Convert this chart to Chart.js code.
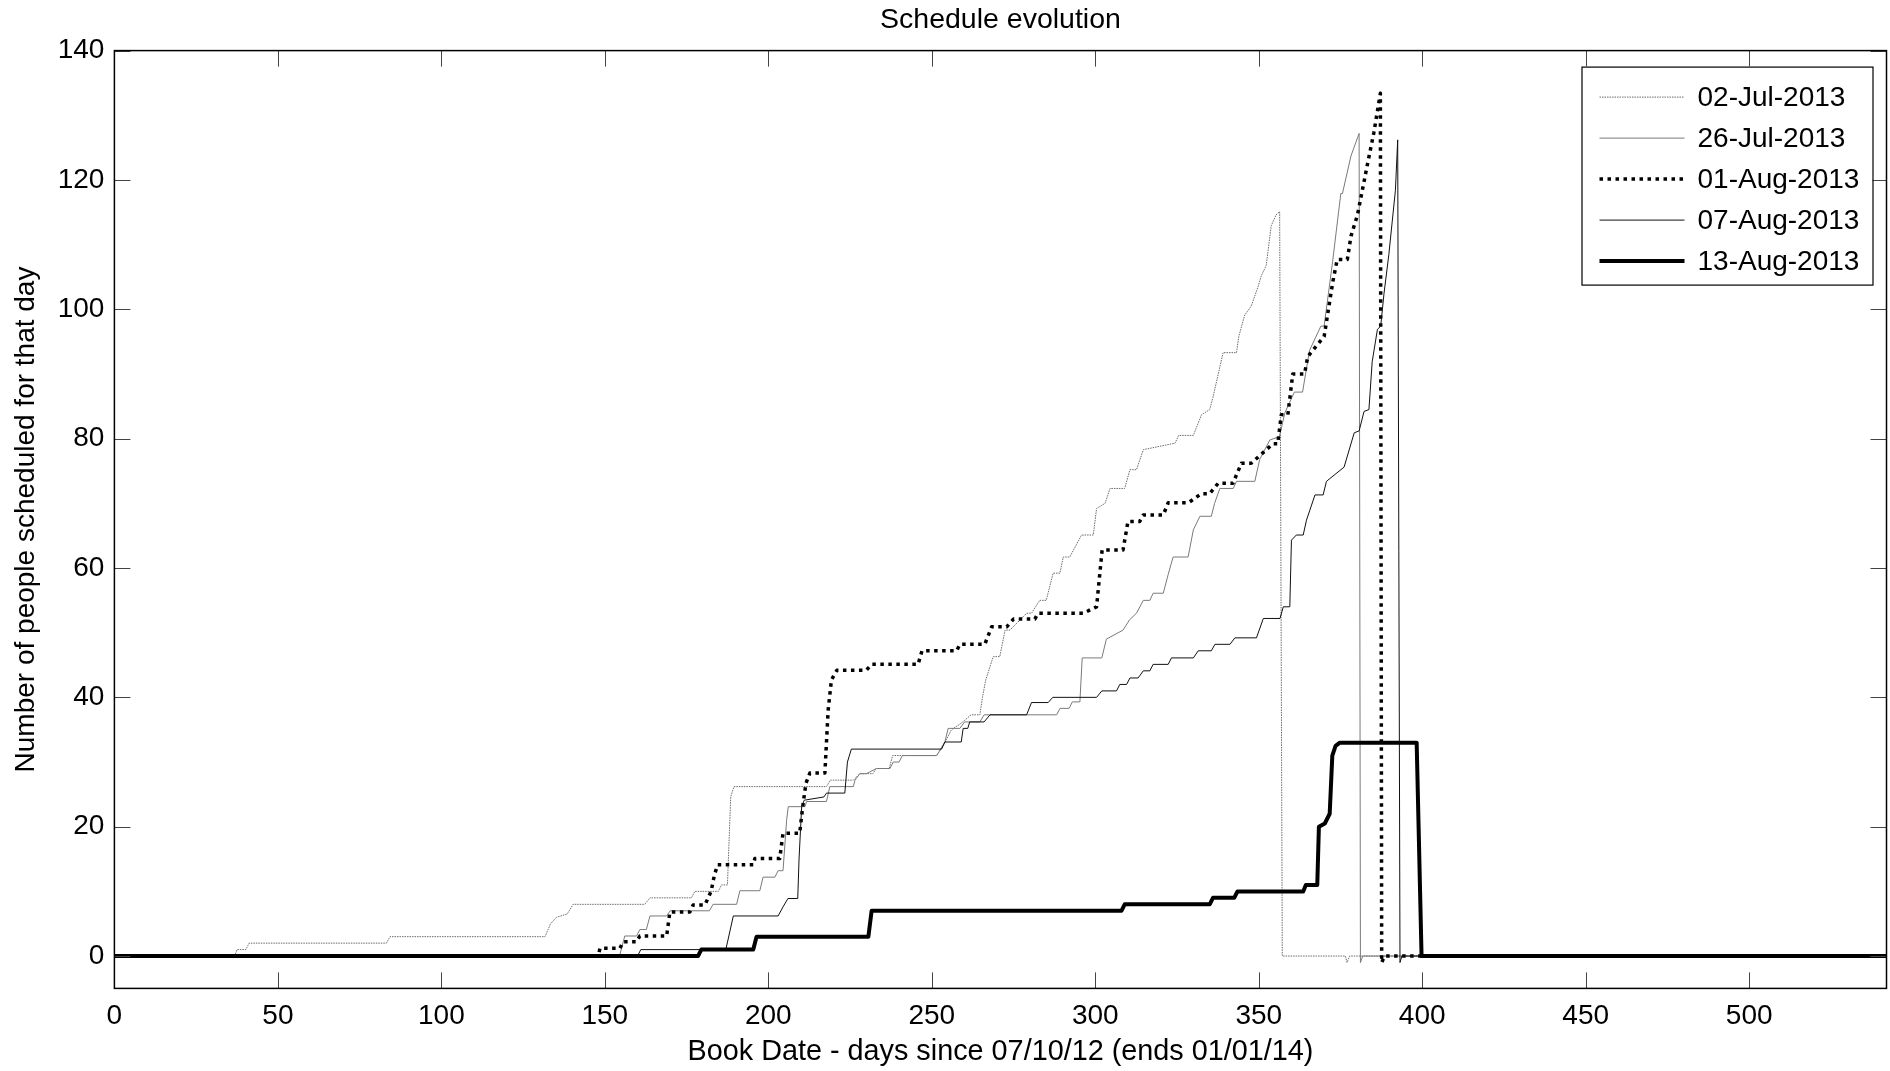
<!DOCTYPE html>
<html>
<head>
<meta charset="utf-8">
<script src="https://cdn.jsdelivr.net/npm/chart.js@4.4.1/dist/chart.umd.min.js"></script>
<style>
  html, body { margin: 0; padding: 0; background: #ffffff; }
  canvas { display: block; }
</style>
</head>
<body>
<canvas id="c" width="1890" height="1071" style="width:1890px;height:1071px"></canvas>
<script>
// ---- Data ----
const seriesNames = ['02-Jul-2013', '26-Jul-2013', '01-Aug-2013', '07-Aug-2013', '13-Aug-2013'];

const jul02X = [0,36.8,37.5,40.2,41.2,83.2,84.3,131.7,133.4,135.2,138.5,140.3,162.2,163.8,176.5,177.5,184.7,185.7,187.5,188.5,189.5,217.8,219,226,228,232,233,237,238,251.5,254,256,259,262,264.7,265.5,266.5,268.8,270.8,272.4,273.9,279,280.5,283,285,287.1,289.2,290.2,292.2,295.8,299.4,300.4,303,304.5,309,310.6,312.6,314.7,324.4,325.5,330,332.5,335,336,339.1,343.2,343.9,345.7,347.7,349.8,350.8,352.3,353.8,355.3,356.4,357.2,376.5,377,377.8,542];
const jul02Y = [0,0,1,1,2,2,3,3,5,6,6.5,8,8,9,9,10,10,11,11,24.6,26.2,26.2,27.2,27.2,28.2,28.2,29,29,31,31,33,35,36,37.3,37.3,40,42.7,46.3,46.3,50.4,50.4,53,53,55,55,59.2,59.2,61.7,61.7,65.1,65.1,69.2,70,72.3,72.3,75.2,75.2,78.3,79.3,80.5,80.5,83.7,84.5,86.4,93.3,93.3,95.8,99.1,100.5,103.5,105.2,106.8,112.9,114.6,115.1,0,0,-1,0,0];

const jul26X = [0,154.5,156.1,159.7,160.7,162.7,163.8,168.9,170,182,183.1,190.3,191.3,197.4,198.4,202,203,204.5,205.6,206.1,211.2,211.7,217.8,218.8,226,226.5,228,230,233.1,237.2,238.2,240,241,251.5,254,255,258.6,260,264.7,266,288.2,289.2,292,293,295.3,296,302,303.4,308.5,310.5,312.6,314.7,316.7,317.7,320.8,322.3,323.8,328.4,330,332,335.5,336.5,338.1,342.2,343.2,348.8,350.3,353.4,356.3,358,360.9,363.4,365.5,369,370,372.6,375.1,375.6,378.2,380.7,381.1,381.8,542];
const jul26Y = [0,0,3.1,3.1,4.1,4.1,6.2,6.2,7,7,8,8,10.1,10.1,12.2,12.2,13.2,13.2,21,23.1,23.1,23.9,23.9,26.2,26.2,27.2,28.2,28.2,29,29,30,30,31,31,33.1,35.2,35.2,36.2,36.2,37.3,37.3,38.3,38.3,39.3,39.3,46.1,46.1,49,50.4,52,53,55,55,56.1,56.1,59,61.7,61.7,65.9,68,68,70,72.3,72.3,73.4,73.4,76.8,79.8,80.3,84,87.2,87.2,93.6,97.4,97.4,107.4,117.9,117.9,123.7,127.2,-1,0,0];

const aug01X = [0,148,148.5,154.6,155.6,159.7,160.7,168.9,169.9,176,177,180.6,182.5,183.5,184.5,195.4,195.9,203.5,204.5,209.6,210.5,211.5,212.7,217.3,218.3,219.3,221,230,231.6,245.8,247,257.6,258.6,266.2,268.3,272.9,275,281.5,282.5,296.3,300.4,302.1,308.5,310,313.6,314.7,320.8,322.3,328.5,332.5,335,337.6,342.1,344.7,347.7,350.8,354.3,355.8,356.9,358.9,360.4,364,365,370,372.6,374,377.1,378.2,380.2,383.2,385.2,387.2,387.6,388.5,542];
const aug01Y = [0,0,1.2,1.2,2.2,2.2,3.1,3.1,6.8,6.8,7.9,7.9,10,12.5,14.1,14.1,15.1,15.1,19,19,23,26.7,28.3,28.3,38,42.7,44.2,44.2,45.1,45.1,47.2,47.2,48.2,48.2,50.9,50.9,52.1,52.1,53,53,54,62.8,62.8,67.2,67.2,68.2,68.2,70.1,70.1,71.5,71.5,73.1,73.1,76.2,76.2,77.6,79.2,79.2,83.7,83.7,90,90,92.7,95.8,104.1,107.7,107.7,111.3,114.6,122.3,127.3,133.4,-1,0,0];

const aug07X = [0,160,161,187,189.3,203,204.5,206,209,209.4,210.2,211,217,217.8,223.4,224.2,225.4,253,254,259,259.6,261,261.6,266,267.8,279,280.5,285.6,287,300.4,302,306.5,307.5,309.6,310.6,313.1,314.7,316.7,317.7,322.3,323.3,330,331.5,335.5,336.6,341.2,342.7,349.3,351.4,356.5,357.5,359.5,360,361.5,363.6,364.6,367.2,369.7,370.7,376.1,379.2,380.7,382.2,383.7,384.7,386.3,387.3,388.3,389.8,391.8,392.5,393.2,393.8,542];
const aug07Y = [0,0,1,1,6.2,6.2,7.6,8.9,8.9,15,23.1,24.1,24.6,25.2,25.2,30,32,32,33.1,33.1,35.2,35.2,36.2,36.2,37.3,37.3,39.2,39.2,40,40,41,41,42,42,43,43,44.1,44.1,45.1,45.1,46.1,46.1,47.2,47.2,48.2,48.2,49.2,49.2,52.2,52.2,54,54,64.3,65.1,65.1,67.4,71.3,71.3,73.4,75.6,80.9,81.2,84.2,84.5,91.9,96.9,97.4,102.4,108.5,118.4,126.2,-1,0,0];

const aug13X = [0,178.5,179.5,195.4,196.4,230.6,231.6,308,309,335,336,342.5,343.5,363.6,364.4,367.9,368.4,370.2,371.2,371.7,372.5,373.5,374.8,398.3,399.8,542];
const aug13Y = [0,0,1,1,3,3,7,7,8,8,9,9,10,10,11,11,20,20.5,21.5,22,31,32.5,33,33,0,0];

const xTickValues = [0,50,100,150,200,250,300,350,400,450,500];
const yTickValues = [0,20,40,60,80,100,120,140];
const xMin = 0, xMax = 542, yMin = -5, yMax = 140;

const titleText = 'Schedule evolution';
const xTitle = 'Book Date - days since 07/10/12 (ends 01/01/14)';
const yTitle = 'Number of people scheduled for that day';

// ---- Build ----
const FONT = 'Liberation Sans, Arial, Helvetica, sans-serif';
function pts(xs, ys) { return xs.map((x, i) => ({x: x, y: ys[i]})); }

const styles = [
  {color: '#6a6a6a', width: 1, dash: [1.5, 1], order: 5},
  {color: '#7a7a7a', width: 1, dash: [], order: 4},
  {color: '#000000', width: 3.5, dash: [3.5, 4.5], order: 3},
  {color: '#111111', width: 1, dash: [], order: 2},
  {color: '#000000', width: 4, dash: [], order: 1}
];
const seriesData = [pts(jul02X, jul02Y), pts(jul26X, jul26Y), pts(aug01X, aug01Y), pts(aug07X, aug07Y), pts(aug13X, aug13Y)];

const datasets = seriesNames.map((name, i) => ({
  label: name,
  data: seriesData[i],
  borderColor: styles[i].color,
  borderWidth: styles[i].width,
  borderDash: styles[i].dash,
  borderCapStyle: 'butt',
  borderJoinStyle: 'round',
  pointRadius: 0,
  tension: 0,
  fill: false,
  order: styles[i].order
}));

const frameAndTicks = {
  id: 'frameAndTicks',
  afterDatasetsDraw(chart) {
    const {ctx, chartArea: a, scales: {x, y}} = chart;
    const TL = 16;
    ctx.save();
    ctx.strokeStyle = '#444';
    ctx.lineWidth = 1;
    ctx.beginPath();
    xTickValues.forEach(v => {
      const px = Math.round(x.getPixelForValue(v)) + 0.5;
      ctx.moveTo(px, a.bottom); ctx.lineTo(px, a.bottom - TL);
      ctx.moveTo(px, a.top); ctx.lineTo(px, a.top + TL);
    });
    yTickValues.forEach(v => {
      const py = Math.round(y.getPixelForValue(v)) + 0.5;
      ctx.moveTo(a.left, py); ctx.lineTo(a.left + TL, py);
      ctx.moveTo(a.right, py); ctx.lineTo(a.right - TL, py);
    });
    ctx.stroke();
    ctx.strokeStyle = '#000';
    ctx.lineWidth = 1.5;
    ctx.strokeRect(a.left, a.top, a.right - a.left, a.bottom - a.top);
    ctx.restore();
  }
};

const boxLegend = {
  id: 'boxLegend',
  afterDraw(chart) {
    const {ctx, chartArea: a} = chart;
    const w = 291, h = 218;
    const left = a.right - 14 - w, top = a.top + 16;
    ctx.save();
    ctx.fillStyle = '#fff';
    ctx.fillRect(left, top, w, h);
    ctx.strokeStyle = '#000';
    ctx.lineWidth = 1.2;
    ctx.setLineDash([]);
    ctx.strokeRect(left + 0.5, top + 0.5, w, h);
    chart.data.datasets.forEach((ds, i) => {
      const cy = top + 30.5 + i * 41;
      ctx.beginPath();
      ctx.setLineDash(ds.borderDash || []);
      ctx.lineCap = 'butt';
      ctx.strokeStyle = ds.borderColor;
      ctx.lineWidth = ds.borderWidth;
      ctx.moveTo(left + 18, cy);
      ctx.lineTo(left + 103, cy);
      ctx.stroke();
      ctx.setLineDash([]);
      ctx.fillStyle = '#000';
      ctx.font = '28px ' + FONT;
      ctx.textAlign = 'left';
      ctx.textBaseline = 'middle';
      ctx.fillText(ds.label, left + 116, cy + 1);
    });
    ctx.restore();
  }
};

const tickFont = {family: FONT, size: 28, weight: 'normal'};
const labelFont = {family: FONT, size: 28.8, weight: 'normal'};

new Chart(document.getElementById('c').getContext('2d'), {
  type: 'line',
  data: { datasets: datasets },
  options: {
    responsive: false,
    animation: false,
    devicePixelRatio: 1,
    events: [],
    layout: { padding: { left: 0, right: 3.5, top: 0, bottom: 0 } },
    plugins: {
      legend: { display: false },
      tooltip: { enabled: false },
      title: {
        display: true,
        text: titleText,
        fullSize: false,
        color: '#000',
        font: {family: FONT, size: 28.5, weight: 'normal', lineHeight: 1.2},
        padding: {top: 3, bottom: 13.4}
      }
    },
    scales: {
      x: {
        type: 'linear',
        min: xMin, max: xMax,
        grid: { display: false, drawTicks: false },
        border: { display: false },
        ticks: { font: tickFont, color: '#000', padding: 11, maxRotation: 0, autoSkip: false },
        afterBuildTicks: s => { s.ticks = xTickValues.map(v => ({value: v})); },
        afterFit: s => { s.height = 82.6; },
        title: { display: true, text: xTitle, color: '#000', font: labelFont, padding: {top: 0, bottom: 1.8} }
      },
      y: {
        type: 'linear',
        min: yMin, max: yMax,
        grid: { display: false, drawTicks: false },
        border: { display: false },
        ticks: { font: tickFont, color: '#000', padding: 10 },
        afterBuildTicks: s => { s.ticks = yTickValues.map(v => ({value: v})); },
        afterFit: s => { s.width = 114.4; },
        title: { display: true, text: yTitle, color: '#000', font: tickFont, padding: {top: 9.6, bottom: 0} }
      }
    }
  },
  plugins: [frameAndTicks, boxLegend]
});
</script>
</body>
</html>
